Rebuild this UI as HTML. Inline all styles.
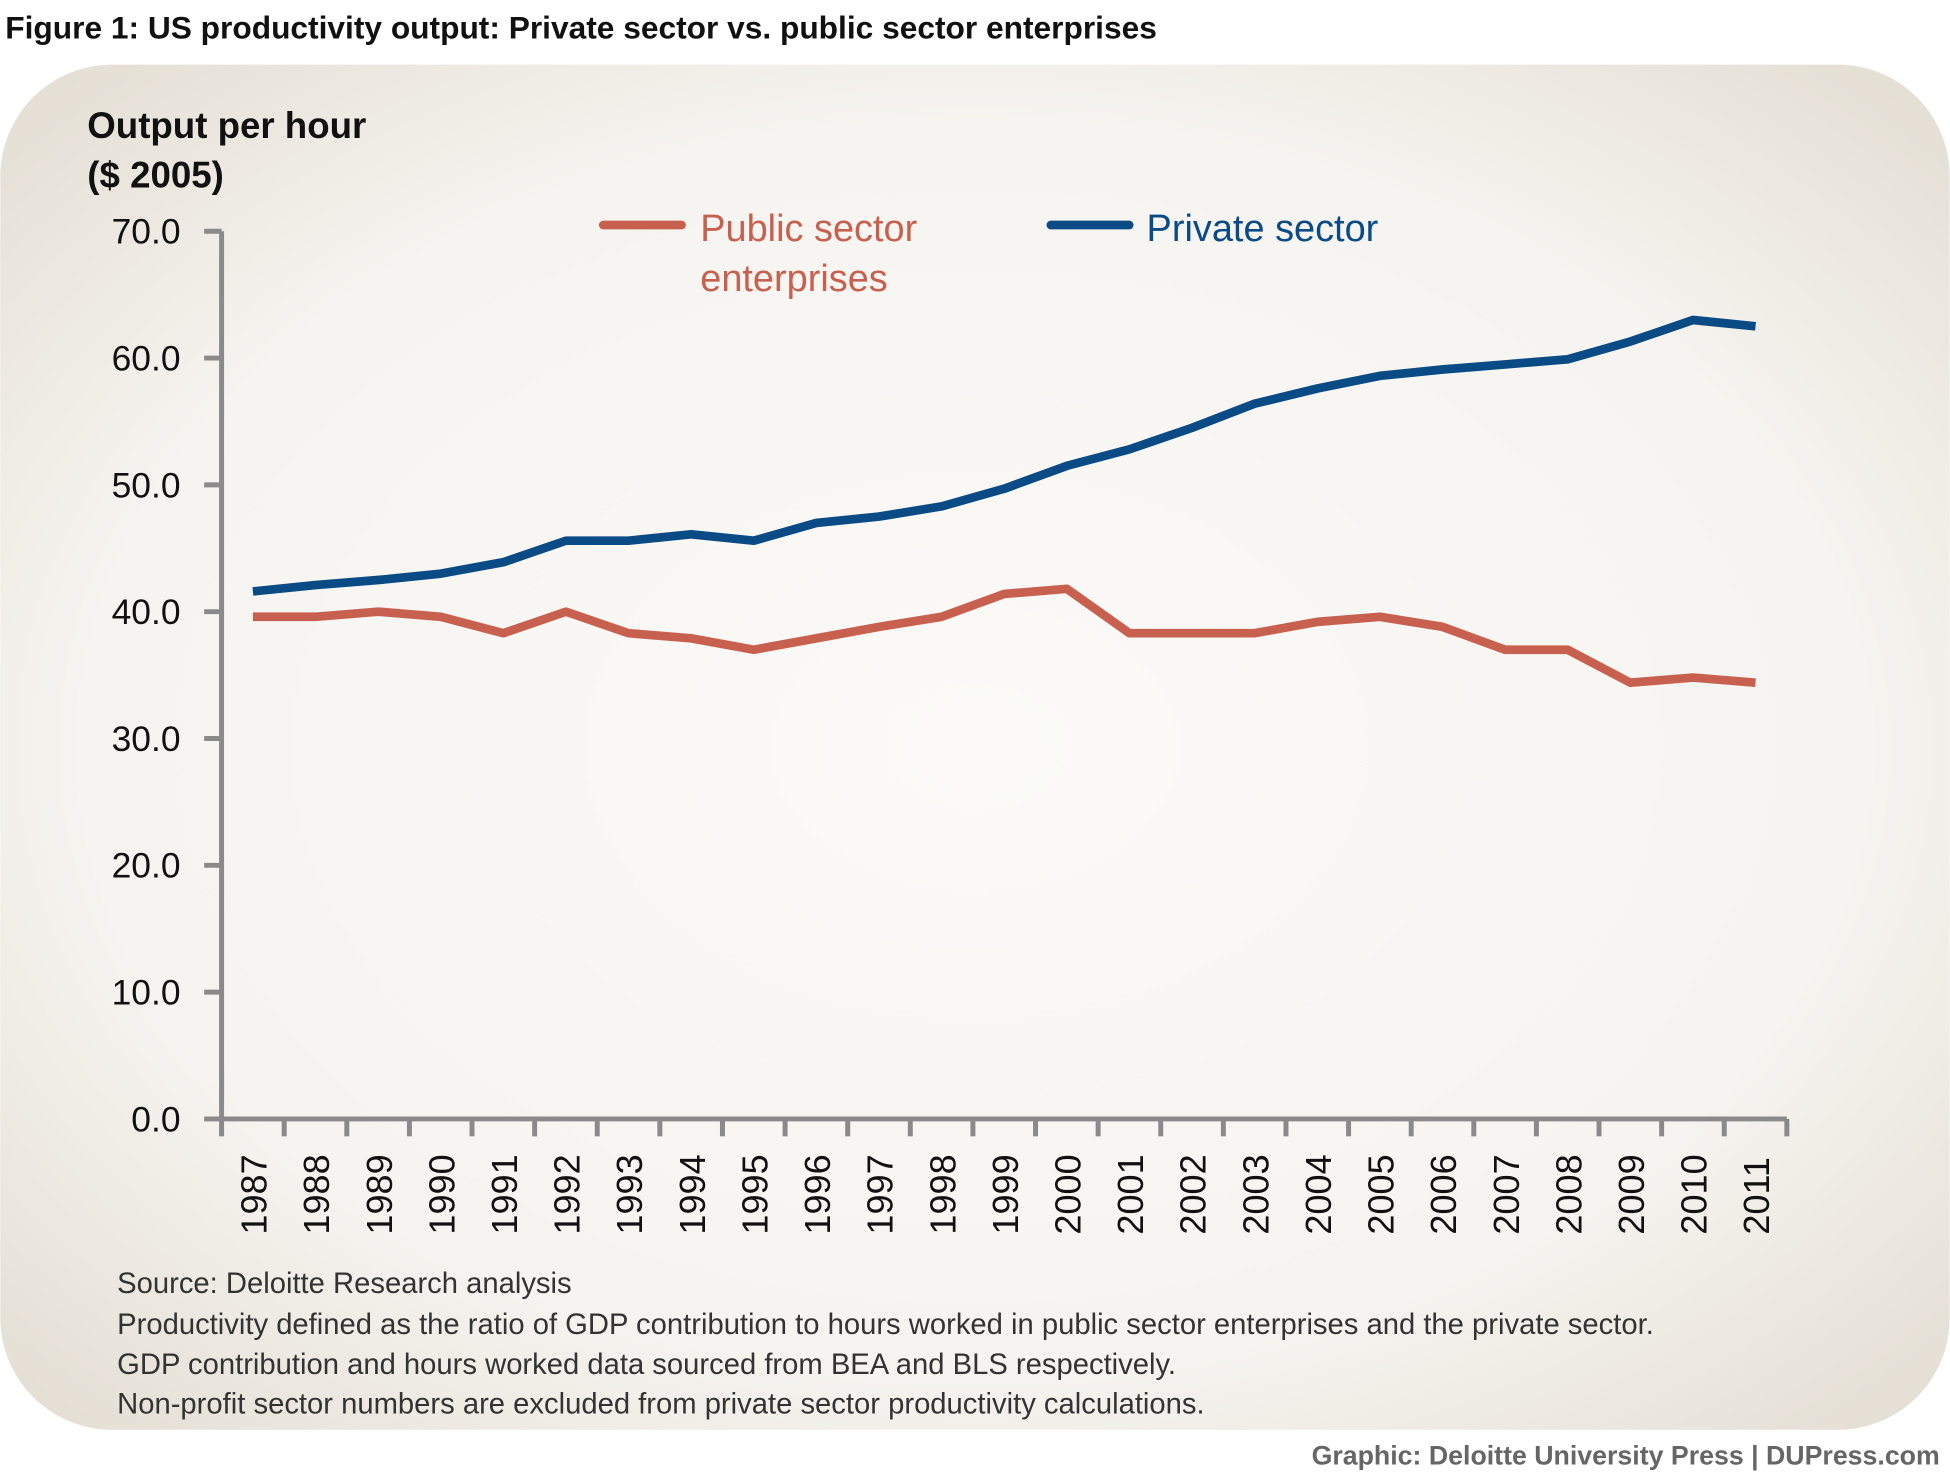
<!DOCTYPE html>
<html><head><meta charset="utf-8">
<style>
html,body{margin:0;padding:0;background:#fff;}
svg{display:block;font-family:"Liberation Sans",sans-serif;}
</style></head>
<body>
<svg width="1950" height="1477" viewBox="0 0 1568 1188" xmlns="http://www.w3.org/2000/svg">
<defs>
<radialGradient id="bg" cx="50%" cy="50%" r="70%">
<stop offset="0%" stop-color="#fbfaf8"/><stop offset="65%" stop-color="#f6f4f0"/><stop offset="100%" stop-color="#e3ddd2"/>
</radialGradient>
</defs>
<text x="4" y="31" font-size="25.5" font-weight="bold" fill="#111">Figure 1:  US productivity output: Private sector vs. public sector enterprises</text>
<rect x="0" y="52" width="1568" height="1098" rx="90" fill="url(#bg)"/>
<text font-size="29.5" font-weight="bold" fill="#111"><tspan x="70" y="111">Output per hour</tspan><tspan x="70" y="151">($ 2005)</tspan></text>
<g id="yaxis"></g>
<g id="xaxis"></g>
<g id="series"></g>
<g>
<line x1="485" y1="181" x2="548" y2="181" stroke="#c8604f" stroke-width="7" stroke-linecap="round"/>
<text font-size="30.5" fill="#c8604f"><tspan x="563" y="194">Public sector</tspan><tspan x="563" y="234">enterprises</tspan></text>
<line x1="845" y1="181" x2="908" y2="181" stroke="#0a4a85" stroke-width="7" stroke-linecap="round"/>
<text x="922" y="194" font-size="30.5" fill="#0a4a85">Private sector</text>
</g>
<text font-size="23.5" fill="#333"><tspan x="94" y="1040">Source: Deloitte Research analysis</tspan><tspan x="94" y="1073">Productivity defined as the ratio of GDP contribution to hours worked in public sector enterprises and the private sector.</tspan><tspan x="94" y="1105">GDP contribution and hours worked data sourced from BEA and BLS respectively.</tspan><tspan x="94" y="1137">Non-profit sector numbers are excluded from private sector productivity calculations.</tspan></text>
<text x="1560" y="1178" font-size="21.5" font-weight="bold" fill="#666" text-anchor="end">Graphic: Deloitte University Press | DUPress.com</text>
</svg>
<script>
const years=["1987","1988","1989","1990","1991","1992","1993","1994","1995","1996","1997","1998","1999","2000","2001","2002","2003","2004","2005","2006","2007","2008","2009","2010","2011"];
const publicSector=[39.6,39.6,40.0,39.6,38.3,40.0,38.3,37.9,37.0,37.9,38.8,39.6,41.4,41.8,38.3,38.3,38.3,39.2,39.6,38.8,37.0,37.0,34.4,34.8,34.4];
const privateSector=[41.6,42.1,42.5,43.0,43.9,45.6,45.6,46.1,45.6,47.0,47.5,48.3,49.7,51.5,52.8,54.5,56.4,57.6,58.6,59.1,59.5,59.9,61.3,63.0,62.5];
const yTicks=["0.0","10.0","20.0","30.0","40.0","50.0","60.0","70.0"];
const NS="http://www.w3.org/2000/svg";
const X0=178,X1=1437,Y0=900,Y1=186,YMAX=70;
const band=(X1-X0)/years.length;
const xs=i=>X0+band*(i+0.5);
const ys=v=>Y0-(v/YMAX)*(Y0-Y1);
function mk(tag,attrs,parent){const e=document.createElementNS(NS,tag);for(const k in attrs)e.setAttribute(k,attrs[k]);parent.appendChild(e);return e;}
const ya=document.getElementById('yaxis'),xa=document.getElementById('xaxis'),sg=document.getElementById('series');
const yl=mk('line',{x1:X0,y1:Y1,x2:X0,y2:Y0,stroke:'#8a8a8a','stroke-width':4},ya);


yTicks.forEach(t=>{const v=parseFloat(t),y=ys(v);
const tk=mk('line',{x1:X0-14,y1:y,x2:X0,y2:y,stroke:'#8a8a8a','stroke-width':4},ya);


const lb=mk('text',{x:145,y:y+10,'font-size':28.5,fill:'#111','text-anchor':'end'},ya);


lb.textContent=t;});
const xl=mk('line',{x1:X0-2,y1:Y0,x2:X1,y2:Y0,stroke:'#8a8a8a','stroke-width':4},xa);


for(let i=0;i<=years.length;i++){const x=X0+band*i;
const tk=mk('line',{x1:x,y1:Y0,x2:x,y2:Y0+14,stroke:'#8a8a8a','stroke-width':4},xa);

}
years.forEach((yr,i)=>{const x=xs(i)+11,y=Y0+93;
const lb=mk('text',{x:x,y:y,'font-size':29,fill:'#111',transform:`rotate(-90 ${x} ${y})`},xa);


lb.textContent=yr;});
function line(data,color,name){const d=data.map((v,i)=>(i?'L':'M')+xs(i).toFixed(1)+' '+ys(v).toFixed(1)).join(' ');
const p=mk('path',{d:d,fill:'none',stroke:color,'stroke-width':7,'stroke-linejoin':'round','stroke-linecap':'butt'},sg);

}
line(publicSector,'#c8604f','public-sector-line');
line(privateSector,'#0a4a85','private-sector-line');
</script>
</body></html>
